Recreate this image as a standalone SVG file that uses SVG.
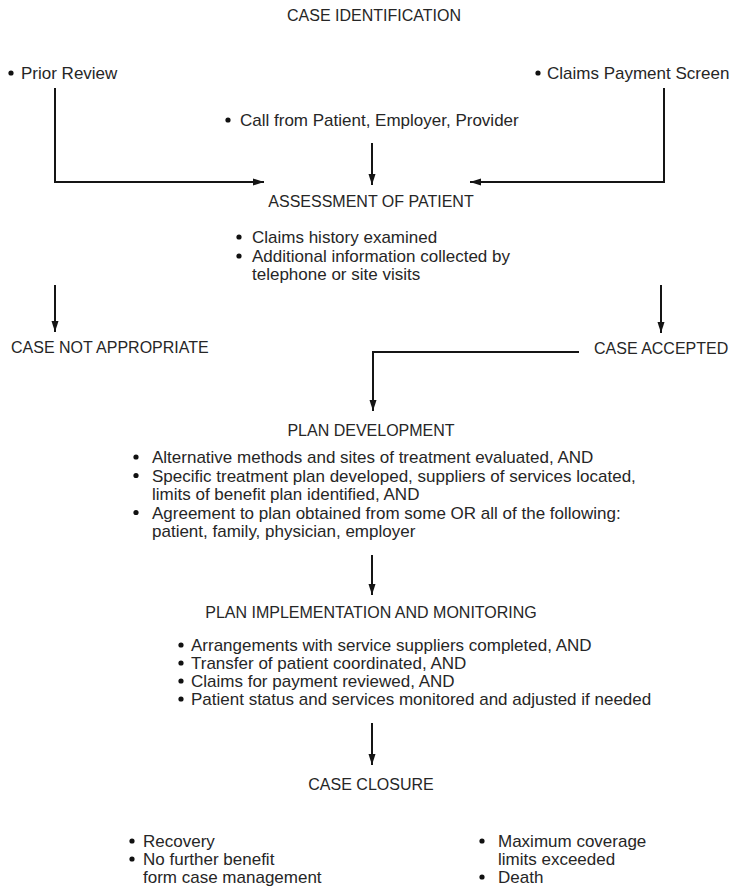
<svg xmlns="http://www.w3.org/2000/svg" width="732" height="891" viewBox="0 0 732 891">
<defs>
<style>
text{font-family:"Liberation Sans",Arial,Helvetica,sans-serif;fill:#262626}
.h{font-size:16px;text-anchor:middle}
.hl{font-size:16px}
.b{font-size:17px}
.dot{fill:#111}
.c{fill:none;stroke:#151515;stroke-width:2}
</style>
<marker id="ah" markerUnits="userSpaceOnUse" markerWidth="12" markerHeight="8" refX="11" refY="4" orient="auto">
<path d="M0,0.5 L11,4 L0,7.5 z" fill="#151515"/>
</marker>
</defs>
<rect width="732" height="891" fill="#fff"/>

<g id="connectors">
<path class="c" d="M55,88 V182 H264" marker-end="url(#ah)"/>
<path class="c" d="M664,88 V182 H470" marker-end="url(#ah)"/>
<path class="c" d="M372,143 V185" marker-end="url(#ah)"/>
<path class="c" d="M55,285 V332" marker-end="url(#ah)"/>
<path class="c" d="M661,285 V333" marker-end="url(#ah)"/>
<path class="c" d="M579,352 H373 V411" marker-end="url(#ah)"/>
<path class="c" d="M372,555 V595" marker-end="url(#ah)"/>
<path class="c" d="M372,723 V765" marker-end="url(#ah)"/>
</g>

<g id="case-identification">
<text class="h" x="374" y="21">CASE IDENTIFICATION</text>
</g>

<g id="prior-review">
<circle class="dot" cx="11" cy="73" r="2.6"/>
<text class="b" x="21" y="79">Prior Review</text>
</g>

<g id="claims-payment-screen">
<circle class="dot" cx="538" cy="73" r="2.6"/>
<text class="b" x="547" y="79">Claims Payment Screen</text>
</g>

<g id="call-from">
<circle class="dot" cx="228" cy="120" r="2.6"/>
<text class="b" x="240" y="126">Call from Patient, Employer, Provider</text>
</g>

<g id="assessment">
<text class="h" x="371" y="207">ASSESSMENT OF PATIENT</text>
<circle class="dot" cx="239" cy="237" r="2.6"/>
<text class="b" x="252" y="243">Claims history examined</text>
<circle class="dot" cx="239" cy="256" r="2.6"/>
<text class="b" x="252" y="261.5">Additional information collected by</text>
<text class="b" x="252" y="280">telephone or site visits</text>
</g>

<g id="case-not-appropriate">
<text class="hl" x="11" y="353">CASE NOT APPROPRIATE</text>
</g>

<g id="case-accepted">
<text class="hl" x="594" y="354">CASE ACCEPTED</text>
</g>

<g id="plan-development">
<text class="h" x="371" y="436">PLAN DEVELOPMENT</text>
<circle class="dot" cx="136" cy="457" r="2.6"/>
<text class="b" x="152" y="463">Alternative methods and sites of treatment evaluated, AND</text>
<circle class="dot" cx="136" cy="475.5" r="2.6"/>
<text class="b" x="152" y="481.5">Specific treatment plan developed, suppliers of services located,</text>
<text class="b" x="152" y="500">limits of benefit plan identified, AND</text>
<circle class="dot" cx="136" cy="512.5" r="2.6"/>
<text class="b" x="152" y="518.5">Agreement to plan obtained from some OR all of the following:</text>
<text class="b" x="152" y="537">patient, family, physician, employer</text>
</g>

<g id="plan-implementation">
<text class="h" x="371" y="618">PLAN IMPLEMENTATION AND MONITORING</text>
<circle class="dot" cx="181" cy="645" r="2.6"/>
<text class="b" x="191" y="651">Arrangements with service suppliers completed, AND</text>
<circle class="dot" cx="181" cy="663" r="2.6"/>
<text class="b" x="191" y="669">Transfer of patient coordinated, AND</text>
<circle class="dot" cx="181" cy="681" r="2.6"/>
<text class="b" x="191" y="687">Claims for payment reviewed, AND</text>
<circle class="dot" cx="181" cy="699" r="2.6"/>
<text class="b" x="191" y="705">Patient status and services monitored and adjusted if needed</text>
</g>

<g id="case-closure">
<text class="h" x="371" y="790">CASE CLOSURE</text>
</g>

<g id="closure-left">
<circle class="dot" cx="132" cy="841" r="2.6"/>
<text class="b" x="143" y="847">Recovery</text>
<circle class="dot" cx="132" cy="859" r="2.6"/>
<text class="b" x="143" y="865">No further benefit</text>
<text class="b" x="143" y="883">form case management</text>
</g>

<g id="closure-right">
<circle class="dot" cx="482" cy="841" r="2.6"/>
<text class="b" x="498" y="847">Maximum coverage</text>
<text class="b" x="498" y="865">limits exceeded</text>
<circle class="dot" cx="482" cy="877" r="2.6"/>
<text class="b" x="498" y="883">Death</text>
</g>
</svg>
